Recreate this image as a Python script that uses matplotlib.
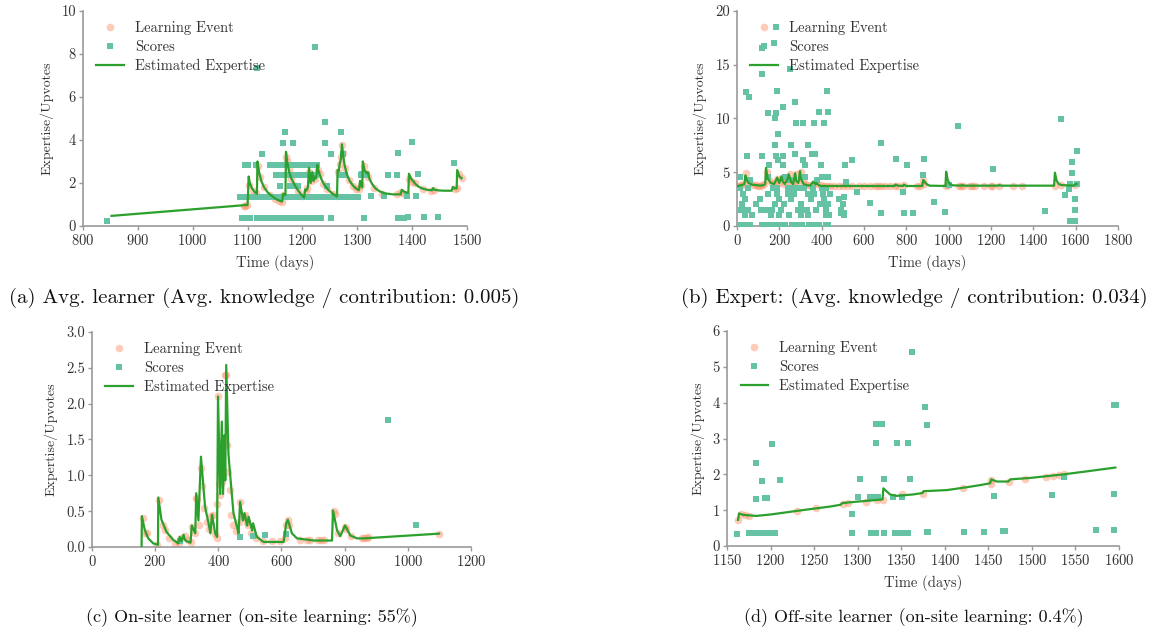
import matplotlib
matplotlib.use("Agg")
import matplotlib.pyplot as plt

plt.rcParams['font.family'] = ['cmr10', 'DejaVu Serif']
plt.rcParams['axes.formatter.use_mathtext'] = True
plt.rcParams['mathtext.fontset'] = 'cm'

# ---------------- Panel (a) ----------------
a_line_t = [852, 1100, 1102, 1104, 1108, 1113, 1117, 1118, 1121, 1125, 1130, 1137, 1145, 1152, 1160,
            1163, 1165, 1167, 1169, 1170, 1172, 1176, 1180, 1186, 1192, 1198, 1203, 1205, 1207, 1210,
            1212, 1215, 1218, 1220, 1222, 1224, 1226, 1227, 1230, 1235, 1240, 1247, 1255, 1263, 1264,
            1266, 1268, 1270, 1272, 1274, 1277, 1281, 1286, 1292, 1298, 1303, 1305, 1307, 1309, 1310,
            1313, 1317, 1319, 1322, 1327, 1333, 1340, 1350, 1365, 1379, 1381, 1385, 1390, 1393, 1394,
            1398, 1402, 1406, 1412, 1420, 1428, 1436, 1438, 1441, 1450, 1460, 1472, 1474, 1476, 1478,
            1481, 1482, 1486, 1490]
a_line_v = [0.47, 0.98, 2.3, 2.0, 1.75, 1.58, 1.5, 3.0, 2.5, 2.1, 1.8, 1.55, 1.38, 1.25, 1.16,
            1.14, 1.5, 1.45, 1.45, 3.45, 3.0, 2.5, 2.2, 1.9, 1.65, 1.45, 1.32, 1.7, 1.65, 1.8,
            2.7, 2.0, 2.5, 2.1, 2.3, 2.2, 2.4, 2.85, 2.5, 2.15, 1.9, 1.68, 1.5, 1.37, 2.6,
            2.55, 2.9, 3.1, 3.8, 3.3, 2.8, 2.4, 2.1, 1.88, 1.73, 1.67, 2.1, 1.9, 1.8, 3.0,
            2.6, 2.45, 2.5, 2.2, 1.95, 1.75, 1.62, 1.52, 1.47, 1.47, 1.68, 1.6, 1.55, 1.55, 2.43,
            2.2, 2.08, 1.95, 1.82, 1.73, 1.68, 1.66, 1.76, 1.68, 1.65, 1.64, 1.64, 1.82, 1.75, 1.75,
            1.75, 2.6, 2.3, 2.22]
a_event_t = [1093, 1096, 1099, 1103, 1110, 1115, 1119, 1122, 1130, 1140, 1150, 1158, 1162, 1165,
             1170, 1172, 1175, 1180, 1185, 1192, 1200, 1206, 1209, 1212, 1215, 1218, 1222, 1228,
             1232, 1238, 1245, 1255, 1262, 1265, 1268, 1270, 1272, 1274, 1278, 1285, 1292, 1298,
             1303, 1306, 1312, 1316, 1320, 1330, 1345, 1372, 1380, 1385, 1395, 1400, 1405, 1420,
             1435, 1440, 1478, 1482, 1485, 1490]
a_event_v = [0.93, 0.95, 0.97, 1.9, 1.65, 1.55, 2.8, 2.3, 1.8, 1.45, 1.25, 1.15, 1.12, 1.45,
             3.2, 3.0, 2.6, 2.2, 1.9, 1.65, 1.4, 1.6, 1.75, 2.5, 2.1, 2.3, 2.2, 2.6,
             2.4, 1.95, 1.7, 1.5, 1.38, 2.5, 2.9, 3.2, 3.75, 3.4, 2.7, 2.15, 1.85, 1.72,
             1.7, 1.9, 2.8, 2.45, 2.3, 1.75, 1.5, 1.47, 1.6, 1.5, 2.2, 2.05, 2.0, 1.72,
             1.65, 1.68, 1.72, 1.78, 2.4, 2.22]
a_score_t = [844, 1118, 1223, 1241, 1168, 1271, 1164, 1183, 1241, 1399, 1126, 1252, 1273, 1374, 1476,
             1095, 1100, 1115, 1141, 1148, 1155, 1162, 1169, 1176, 1183, 1190, 1196, 1206, 1213, 1220, 1226,
             1152, 1159, 1166, 1173, 1180, 1187, 1194, 1205, 1212, 1219, 1225, 1269, 1277, 1306, 1317,
             1308, 1355, 1372, 1410,
             1159, 1178, 1186, 1192, 1245,
             1087, 1093, 1099, 1110, 1117, 1124, 1131, 1141, 1148, 1155, 1162, 1169, 1176, 1183, 1190,
             1197, 1204, 1211, 1218, 1225, 1232, 1239, 1246, 1253, 1260, 1267, 1274, 1281, 1288, 1292,
             1301, 1325, 1349, 1390, 1407,
             1090, 1097, 1104, 1118, 1124, 1130, 1136, 1142, 1149, 1156, 1163, 1170, 1177, 1184,
             1191, 1198, 1205, 1212, 1219, 1226, 1233, 1252, 1312, 1374, 1380, 1385, 1393, 1422, 1447]
a_score_v = [0.25, 7.33, 8.34, 4.85, 4.37, 4.37, 3.85, 3.85, 3.88, 3.92, 3.35, 3.35, 3.35, 3.41, 2.94,
             2.83, 2.83, 2.83, 2.83, 2.83, 2.83, 2.83, 2.83, 2.83, 2.83, 2.83, 2.83, 2.83, 2.83, 2.83, 2.83,
             2.35, 2.35, 2.35, 2.35, 2.35, 2.35, 2.35, 2.35, 2.35, 2.35, 2.35, 2.35, 2.35, 2.35, 2.35,
             2.42, 2.39, 2.39, 2.42,
             1.84, 1.84, 1.84, 1.84, 1.86,
             1.33, 1.33, 1.33, 1.33, 1.33, 1.33, 1.33, 1.33, 1.33, 1.33, 1.33, 1.33, 1.33, 1.33, 1.33,
             1.33, 1.33, 1.33, 1.33, 1.33, 1.33, 1.33, 1.33, 1.33, 1.33, 1.33, 1.33, 1.33, 1.33, 1.33,
             1.36, 1.38, 1.38, 1.38, 1.38,
             0.35, 0.35, 0.35, 0.35, 0.35, 0.35, 0.35, 0.35, 0.35, 0.35, 0.35, 0.35, 0.35, 0.35,
             0.35, 0.35, 0.35, 0.35, 0.35, 0.35, 0.35, 0.37, 0.39, 0.39, 0.39, 0.39, 0.42, 0.42, 0.42]

# ---------------- Panel (b) ----------------
b_line_t = [0, 20, 35, 40, 45, 55, 70, 90, 110, 125, 133, 137, 145, 160, 175, 185, 190, 200, 210, 215,
            225, 240, 245, 255, 265, 275, 280, 290, 298, 302, 315, 330, 345, 360, 370, 375, 385, 400,
            420, 440, 500, 600, 700, 745, 748, 760, 785, 788, 800, 875, 880, 895, 910, 985, 988, 995,
            1005, 1020, 1060, 1063, 1075, 1235, 1238, 1250, 1498, 1502, 1510, 1520, 1535, 1560, 1580,
            1590, 1600, 1605]
b_line_v = [3.7, 3.8, 3.9, 4.7, 4.3, 4.0, 3.85, 3.8, 3.75, 3.8, 3.9, 5.4, 4.4, 4.0, 3.9, 4.3, 4.5, 4.0,
            4.6, 4.2, 3.9, 4.4, 4.8, 4.1, 3.9, 4.9, 4.2, 4.0, 5.1, 4.4, 3.9, 3.8, 3.75, 4.1, 3.9, 4.0,
            3.8, 3.72, 3.72, 3.72, 3.72, 3.72, 3.72, 3.72, 3.85, 3.75, 3.72, 3.85, 3.72, 3.72, 4.28,
            3.9, 3.75, 3.72, 5.05, 4.3, 3.9, 3.78, 3.75, 3.8, 3.75, 3.75, 3.8, 3.75, 3.75, 4.96, 4.2,
            3.9, 3.8, 3.78, 3.76, 3.75, 3.9, 3.9]
b_event_t = [0, 10, 20, 30, 42, 50, 60, 75, 90, 100, 110, 120, 128, 140, 150, 165, 180, 190, 200, 212,
             222, 235, 248, 258, 270, 278, 290, 300, 310, 320, 335, 350, 365, 380, 395, 410, 425, 440,
             460, 480, 500, 520, 545, 575, 600, 630, 650, 665, 680, 700, 725, 745, 760, 790, 850, 865,
             878, 885, 985, 995, 1050, 1060, 1070, 1100, 1110, 1125, 1165, 1200, 1205, 1240, 1305,
             1345, 1500, 1530, 1595]
b_event_v = [3.7, 3.75, 3.8, 3.9, 4.9, 4.3, 4.0, 3.85, 3.8, 3.75, 3.75, 3.8, 3.9, 5.0, 4.3, 4.0, 3.9,
             4.4, 4.0, 4.5, 3.9, 4.2, 4.8, 4.1, 3.9, 4.8, 4.0, 5.0, 4.3, 3.9, 3.8, 3.75, 4.0, 3.9, 3.8,
             3.75, 3.72, 3.72, 3.72, 3.72, 3.72, 3.72, 3.72, 3.72, 3.72, 3.72, 3.72, 3.72, 3.72, 3.72,
             3.72, 3.72, 3.75, 3.8, 3.72, 3.72, 4.3, 3.9, 3.75, 3.8, 3.72, 3.72, 3.72, 3.72, 3.72, 3.72,
             3.72, 3.72, 3.72, 3.75, 3.72, 3.72, 3.75, 3.8, 3.85]
b_score_t = [42, 58, 117, 117, 175, 184, 252, 187, 425, 274, 216, 145, 183, 388, 428, 180, 277, 313, 364,
             411, 192, 180, 255, 334, 46, 117, 183, 219, 274, 353, 368, 542, 313, 192, 153, 219, 321, 510,
             397, 680, 1043, 1529, 751, 803, 882, 877, 1208, 1605, 1581, 1581, 628, 783, 1002, 931, 680,
             789, 831, 983, 1453, 1550, 1572, 1605, 1570, 1597, 1597, 1572, 1597, 567, 490, 505, 504, 516,
             14, 146, 226, 321, 400, 432,
             60, 250, 380,
             14, 50, 172, 190, 240, 260, 290, 315, 360, 400, 420,
             30, 145, 190, 240, 270, 335, 365, 405, 440,
             40, 110, 200, 255, 350, 410, 480,
             25, 90, 180, 220, 300, 390, 405, 430, 500,
             20, 35, 50, 115, 130, 150, 165, 210, 290, 305, 330, 375, 420, 490,
             40, 70, 160, 200, 245, 300, 335, 420, 435, 505,
             15, 30, 45, 60, 120, 135, 150, 165, 180, 195, 210, 225, 260, 275, 290, 305, 340, 355, 370,
             385, 420, 432]
b_score_v = [12.5, 12.0, 14.1, 16.6, 17.05, 18.5, 14.6, 12.58, 12.58, 11.56, 11.1, 10.54, 10.54, 10.63,
             10.63, 10.08, 9.62, 9.62, 9.62, 9.62, 8.56, 7.54, 7.54, 7.54, 6.55, 6.55, 6.55, 6.55, 6.67,
             6.67, 6.67, 6.17, 6.17, 6.11, 5.65, 5.65, 5.71, 5.65, 5.65, 7.75, 9.3, 9.98, 6.26, 5.71,
             6.26, 4.78, 5.33, 7.0, 5.98, 4.96, 2.17, 3.19, 3.84, 2.26, 1.24, 1.24, 1.24, 1.33, 1.43,
             2.91, 3.9, 3.9, 3.41, 2.48, 1.49, 0.5, 0.5, 3.19, 1.2, 1.2, 2.7, 4.1,
             4.6, 4.6, 4.6, 4.6, 4.6, 4.6,
             4.3, 4.3, 4.3,
             3.5, 3.5, 3.5, 3.5, 3.5, 3.5, 3.5, 3.5, 3.5, 3.5, 3.5,
             3.0, 3.0, 3.0, 3.0, 3.0, 3.0, 3.0, 3.0, 3.0,
             2.5, 2.5, 2.5, 2.5, 2.5, 2.5, 2.5,
             2.0, 2.0, 2.0, 2.0, 2.0, 2.0, 2.0, 2.0, 2.0,
             1.5, 1.5, 1.5, 1.5, 1.5, 1.5, 1.5, 1.5, 1.5, 1.5, 1.5, 1.5, 1.5, 1.5,
             1.0, 1.0, 1.0, 1.0, 1.0, 1.0, 1.0, 1.0, 1.0, 1.0,
             0.1, 0.1, 0.1, 0.1, 0.1, 0.1, 0.1, 0.1, 0.1, 0.1, 0.1, 0.1, 0.1, 0.1, 0.1, 0.1, 0.1, 0.1,
             0.1, 0.1, 0.1, 0.1]

# ---------------- Panel (c) ----------------
c_line_t = [157, 158, 167, 178, 194, 209, 210, 220, 236, 257, 273, 278, 283, 290, 294, 300, 312, 316, 327,
            330, 337, 345, 358, 369, 375, 380, 390, 396, 399, 406, 411, 415, 419, 422, 425, 432, 436, 448,
            459, 464, 469, 478, 483, 491, 496, 507, 510, 522, 543, 607, 615, 620, 633, 649, 702, 760, 763,
            776, 786, 801, 818, 839, 860, 1099]
c_line_v = [0.0, 0.43, 0.24, 0.12, 0.05, 0.03, 0.69, 0.38, 0.21, 0.1, 0.05, 0.14, 0.08, 0.17, 0.1, 0.08,
            0.06, 0.3, 0.19, 0.75, 0.37, 1.26, 0.56, 0.33, 0.19, 0.45, 0.19, 0.14, 2.1, 0.74, 1.75, 0.74,
            1.56, 0.93, 2.54, 1.3, 1.08, 0.47, 0.28, 0.19, 0.63, 0.37, 0.47, 0.3, 0.42, 0.23, 0.33, 0.14,
            0.07, 0.07, 0.33, 0.38, 0.19, 0.12, 0.09, 0.09, 0.51, 0.23, 0.15, 0.3, 0.16, 0.12, 0.12, 0.186]
c_event_t = [160, 168, 174, 205, 212, 225, 232, 245, 262, 275, 282, 295, 303, 313, 318, 325, 330, 333, 340,
             345, 348, 355, 365, 372, 378, 383, 390, 395, 397, 399, 402, 406, 410, 413, 418, 422, 425, 428,
             432, 436, 440, 448, 455, 465, 470, 475, 480, 485, 490, 495, 505, 520, 540, 570, 595, 610, 615,
             620, 625, 660, 680, 690, 715, 725, 735, 765, 768, 780, 800, 805, 820, 855, 860, 870, 875, 1100]
c_event_v = [0.4, 0.2, 0.19, 0.03, 0.65, 0.3, 0.24, 0.12, 0.06, 0.05, 0.12, 0.15, 0.1, 0.07, 0.28, 0.2,
             0.68, 0.67, 0.3, 1.1, 0.85, 0.55, 0.35, 0.25, 0.43, 0.44, 0.18, 0.13, 0.6, 2.1, 0.88, 0.72,
             1.0, 0.9, 1.5, 2.4, 2.4, 1.43, 1.05, 0.8, 0.45, 0.3, 0.22, 0.35, 0.63, 0.45, 0.42, 0.45, 0.35,
             0.3, 0.2, 0.12, 0.08, 0.08, 0.08, 0.13, 0.3, 0.37, 0.3, 0.1, 0.1, 0.1, 0.1, 0.1, 0.1, 0.5,
             0.46, 0.2, 0.28, 0.25, 0.15, 0.13, 0.13, 0.13, 0.14, 0.18]
c_score_t = [278, 470, 510, 549, 615, 937, 1026]
c_score_v = [0.084, 0.14, 0.149, 0.163, 0.186, 1.767, 0.307]

# ---------------- Panel (d) ----------------
d_line_t = [1162.6, 1163.8, 1168.4, 1183.7, 1200, 1215, 1230, 1252, 1268, 1280, 1282.6, 1300, 1315,
            1328.5, 1329.4, 1337, 1344.7, 1363.9, 1374.6, 1375.4, 1402, 1425, 1440.5, 1452, 1453.2,
            1459.7, 1473, 1475, 1498, 1536.4, 1565, 1595.8]
d_line_v = [0.73, 0.91, 0.87, 0.84, 0.88, 0.93, 0.98, 1.05, 1.1, 1.15, 1.2, 1.24, 1.27, 1.3, 1.61, 1.44,
            1.40, 1.44, 1.48, 1.53, 1.56, 1.64, 1.70, 1.75, 1.86, 1.80, 1.80, 1.86, 1.90, 2.0, 2.09, 2.19]
d_event_t = [1162.6, 1166.5, 1170.3, 1175, 1230.5, 1252, 1282.6, 1289, 1309.5, 1321.7, 1329.4, 1351,
             1374.6, 1420.6, 1452.8, 1452.8, 1474, 1492, 1516, 1524, 1531, 1537]
d_event_v = [0.74, 0.89, 0.87, 0.84, 0.98, 1.05, 1.16, 1.21, 1.24, 1.28, 1.28, 1.45, 1.44, 1.61, 1.84,
             1.72, 1.80, 1.86, 1.93, 1.95, 1.98, 2.01]
d_score_t = [1161.9, 1174.9, 1183.7, 1183.7, 1182, 1188, 1194, 1200, 1205, 1190.6, 1193.3, 1196, 1202,
             1211.3, 1294, 1294, 1302.6, 1300.6, 1314, 1318, 1323.6, 1321, 1327.5, 1321, 1315, 1321, 1330,
             1330, 1341, 1344.7, 1343, 1348, 1353, 1358, 1350.5, 1358, 1360, 1362, 1377, 1379, 1379, 1381,
             1422, 1445, 1455.9, 1466.6, 1469, 1523, 1537, 1574, 1594, 1596, 1594.6, 1594.6]
d_score_v = [0.33, 0.35, 2.33, 1.31, 0.35, 0.35, 0.35, 0.35, 0.35, 1.82, 1.35, 1.35, 2.84, 1.84, 0.88,
             0.37, 1.88, 1.38, 1.38, 1.38, 1.38, 3.4, 3.4, 2.88, 0.37, 0.37, 1.88, 0.37, 1.38, 2.88, 0.37,
             0.37, 0.37, 0.37, 1.38, 2.88, 1.88, 5.4, 3.89, 3.38, 0.39, 0.39, 0.39, 0.39, 1.40, 0.43, 0.43,
             1.43, 1.93, 0.45, 3.94, 3.94, 1.46, 0.45]

# ---------------- Styling ----------------
EVENT_C = '#fc8d62'
SCORE_C = '#66c2a5'
LINE_C = '#2ca02c'
TXT_C = '#333333'
SPINE_C = '#999999'

fig = plt.figure(figsize=(11.57, 6.33), dpi=100)

panels = [
    dict(rect=[0.0717, 0.643, 0.332, 0.3397], lt=a_line_t, lv=a_line_v, et=a_event_t, ev=a_event_v,
         st=a_score_t, sv=a_score_v, xlim=(800, 1500), xt=range(800, 1501, 100), ylim=(0, 10),
         yt=range(0, 11, 2), xlabel=True, yfmt='{:.0f}'),
    dict(rect=[0.637, 0.643, 0.3293, 0.3397], lt=b_line_t, lv=b_line_v, et=b_event_t, ev=b_event_v,
         st=b_score_t, sv=b_score_v, xlim=(0, 1800), xt=range(0, 1801, 200), ylim=(0, 20),
         yt=range(0, 21, 5), xlabel=True, yfmt='{:.0f}'),
    dict(rect=[0.0795, 0.1359, 0.3276, 0.3396], lt=c_line_t, lv=c_line_v, et=c_event_t, ev=c_event_v,
         st=c_score_t, sv=c_score_v, xlim=(0, 1200), xt=range(0, 1201, 200), ylim=(0, 3.0),
         yt=[0, 0.5, 1.0, 1.5, 2.0, 2.5, 3.0], xlabel=False, yfmt='{:.1f}'),
    dict(rect=[0.6284, 0.1374, 0.3388, 0.3397], lt=d_line_t, lv=d_line_v, et=d_event_t, ev=d_event_v,
         st=d_score_t, sv=d_score_v, xlim=(1150, 1600), xt=range(1150, 1601, 50), ylim=(0, 6),
         yt=range(0, 7, 1), xlabel=True, yfmt='{:.0f}'),
]

for p in panels:
    ax = fig.add_axes(p['rect'])
    ax.plot(p['et'], p['ev'], 'o', color=EVENT_C, alpha=0.45, markersize=5.5, markeredgewidth=0,
            label='Learning Event', zorder=2)
    ax.plot(p['st'], p['sv'], 's', color=SCORE_C, markersize=4.6, markeredgewidth=0,
            label='Scores', zorder=3)
    ax.plot(p['lt'], p['lv'], '-', color=LINE_C, linewidth=1.6, label='Estimated Expertise', zorder=4)
    ax.set_xlim(*p['xlim'])
    ax.set_ylim(*p['ylim'])
    ax.set_xticks(list(p['xt']))
    ax.set_yticks(list(p['yt']))
    ax.set_yticklabels([p['yfmt'].format(v) for v in p['yt']])
    for s in ('top', 'right'):
        ax.spines[s].set_visible(False)
    for s in ('left', 'bottom'):
        ax.spines[s].set_color(SPINE_C)
        ax.spines[s].set_linewidth(1.2)
    ax.tick_params(axis='both', colors=SPINE_C, labelcolor=TXT_C, labelsize=10.5, length=3, width=1, pad=2)
    ax.set_ylabel('Expertise/Upvotes', fontsize=10, color=TXT_C, labelpad=6)
    if p['xlabel']:
        ax.set_xlabel('Time (days)', fontsize=10.5, color=TXT_C, labelpad=5)
    leg = ax.legend(loc='upper left', bbox_to_anchor=(0.012, 0.995), frameon=False, fontsize=10.5,
                    handlelength=1.9, handletextpad=0.75, labelspacing=0.36, borderaxespad=0.2)
    for t in leg.get_texts():
        t.set_color(TXT_C)

fig.text(0.228, 0.529, '(a) Avg. learner (Avg. knowledge / contribution: 0.005)', ha='center', va='center',
         fontsize=15, color='#111111')
fig.text(0.790, 0.529, '(b) Expert: (Avg. knowledge / contribution: 0.034)', ha='center', va='center',
         fontsize=15, color='#111111')
fig.text(0.218, 0.025, '(c) On-site learner (on-site learning: 55%)', ha='center', va='center',
         fontsize=13, color='#111111')
fig.text(0.790, 0.025, '(d) Off-site learner (on-site learning: 0.4%)', ha='center', va='center',
         fontsize=13, color='#111111')

fig.savefig('out.png', dpi=100, facecolor='white')
